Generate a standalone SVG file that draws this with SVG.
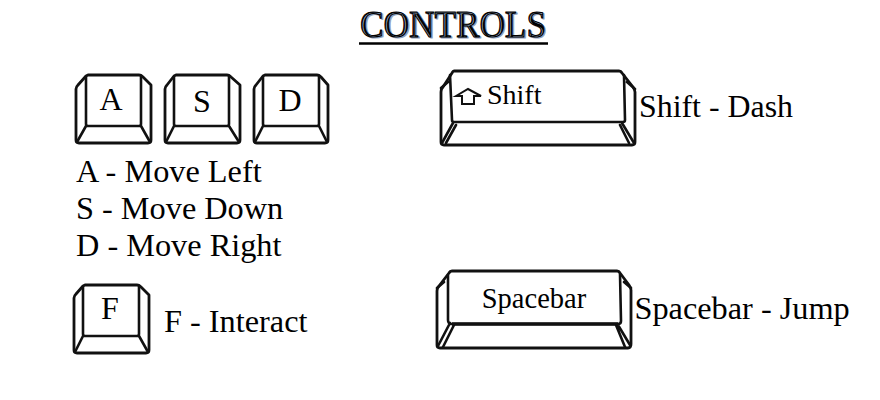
<svg xmlns="http://www.w3.org/2000/svg" width="880" height="400" viewBox="0 0 880 400">
<style>
text{font-family:"Liberation Serif","Times New Roman",serif;fill:#000}
.b{font-size:32.3px}
.k{font-size:32px;text-anchor:middle}
.s{fill:#fff;stroke:#111;stroke-width:2.8;stroke-linejoin:round;stroke-linecap:round}
.l{fill:none;stroke:#111;stroke-width:2.6;stroke-linejoin:round;stroke-linecap:round}
.t{font-size:37px;stroke:#000;stroke-width:1;text-shadow:1.5px 0.5px 0 #8fa0bc}
</style>
<rect width="880" height="400" fill="#fff"/>
<g id="title">
<text class="t" x="360" y="37" textLength="186" lengthAdjust="spacingAndGlyphs">CONTROLS</text>
<line x1="359" y1="43.5" x2="548" y2="43.5" stroke="#000" stroke-width="2.6"/>
</g>
<g id="key-a">
<path class="s" d="M88 75H139Q141 75 143 77L151 85V140Q151 143 148 143H79Q76 143 76 140V89Q76 87 78 85L86 76Z"/>
<path class="l" d="M86 77V124Q86 126 88 126H139Q141 126 141 124V77M86 126L77 142M141 126L150 142"/>
<text class="k" x="111" y="110">A</text>
</g>
<g id="key-s">
<path class="s" d="M176 75H227Q229 75 231 77L240 85V140Q240 143 237 143H168Q165 143 165 140V89Q165 87 167 85L174 76Z"/>
<path class="l" d="M174 77V124Q174 126 176 126H227Q229 126 229 124V77M174 126L166 142M229 126L239 142"/>
<text class="k" x="202" y="112">S</text>
</g>
<g id="key-d">
<path class="s" d="M265 75H317Q319 75 321 77L328 85V140Q328 143 325 143H257Q254 143 254 140V89Q254 87 256 85L263 76Z"/>
<path class="l" d="M263 77V124Q263 126 265 126H317Q319 126 319 124V77M263 126L255 142M319 126L327 142"/>
<text class="k" x="290" y="111">D</text>
</g>
<g id="label-asd">
<text class="b" x="76" y="182">A - Move Left</text>
<text class="b" x="76" y="219">S - Move Down</text>
<text class="b" x="76" y="256">D - Move Right</text>
</g>
<g id="key-f">
<path class="s" d="M85 285H137Q139 285 141 287L149 295V350Q149 353 146 353H77Q74 353 74 350V298Q74 296 76 294L83 286Z"/>
<path class="l" d="M83 287V334Q83 336 85 336H137Q139 336 139 334V287M83 336L75 352M139 336L148 352"/>
<text class="k" x="110" y="319">F</text>
</g>
<text id="label-f" class="b" x="164" y="332">F - Interact</text>
<g id="key-shift">
<path class="s" d="M454 71H619Q621 71 622 73L633 87Q635 90 635 92V142Q635 145 632 145H444Q441 145 441 142V92Q441 89 443 87L452 73Q453 71 454 71Z"/>
<path class="l" d="M450 75L452 120Q452 122 454 122H623Q625 122 625 120L624 75M453 123L442 143M456 125L446 143M622 123L634 143M620 125L629 143M441 88L448 82M635 89L627 82"/>
<path d="M456 96L468 89L481 96H474V104H462V96Z" fill="#fff" stroke="#111" stroke-width="2"/>
<text x="487" y="104" font-size="28">Shift</text>
</g>
<text id="label-shift" class="b" x="639" y="117" textLength="154" lengthAdjust="spacingAndGlyphs">Shift - Dash</text>
<g id="key-spacebar">
<path class="s" d="M452 271H617Q619 271 620 273L629 285Q631 288 631 290V344Q631 348 628 348H440Q437 348 437 345V291Q437 288 439 286L449 273Q450 271 452 271Z"/>
<path class="l" d="M448 275V320Q448 324 452 324H618Q621 324 621 321L620 274M450 323L438 346M454 325L443 347M618 325L630 345M616 325L625 347M437 288L444 282M631 288L624 282"/>
<path d="M452 324H618" stroke="#111" stroke-width="3.4" fill="none"/>
<text x="534" y="308" font-size="28.5" text-anchor="middle">Spacebar</text>
</g>
<text id="label-spacebar" class="b" x="634.5" y="319">Spacebar - Jump</text>
</svg>
